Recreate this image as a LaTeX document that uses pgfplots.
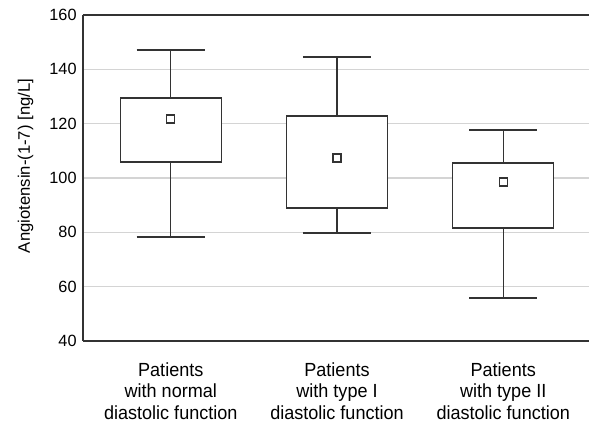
\documentclass[border=0pt]{standalone}
\usepackage{pgfplots}
\pgfplotsset{compat=1.18}
\usepackage{fontspec}
\setmainfont{Liberation Sans}
\newfontfamily\labfont[FakeStretch=0.95]{Liberation Sans}
\definecolor{axisgray}{HTML}{333333}
\definecolor{gridgray}{HTML}{D4D4D4}
\begin{document}
\begin{tikzpicture}
\begin{axis}[
  scale only axis, width=379.5pt, height=244.5pt,
  xmin=0.472, xmax=3.516, ymin=40, ymax=160,
  ytick={40,60,...,160},
  xtick={1,2,3},
  xticklabels={{Patients\\with normal\\diastolic function},{Patients\\with type I\\diastolic function},{Patients\\with type II\\diastolic function}},
  xticklabel style={align=center, font=\labfont\fontsize{14.25}{16.3}\selectfont, yshift=-12.5pt},
  yticklabel style={font=\fontsize{12.2}{14}\selectfont, xshift=-1.3pt},
  /pgf/number format/assume math mode=true,
  separate axis lines,
  axis x line=box, axis y line=left,
  axis line style={-, draw=axisgray, line width=1pt},
  ymajorgrids, major grid style={draw=gridgray, line width=1pt},
  major tick length=0pt,
  ylabel={Angiotensin-(1-7) [ng/L]},
  ylabel style={font=\fontsize{12.5}{14}\selectfont, at={(axis description cs:-0.1136,0.537)}, anchor=center},
  every axis plot/.append style={draw=axisgray, line width=1.05pt},
]
\coordinate (SW) at (rel axis cs:0,0);
\coordinate (NE) at (rel axis cs:1,1);
% group 1: whiskers 78.3 / 147.1, box 105.9 - 129.4
\addplot[mark=none] coordinates {(1,105.9) (1,78.3)};
\addplot[mark=none] coordinates {(0.795,78.3) (1.205,78.3)};
\addplot[mark=none] coordinates {(1,129.4) (1,147.1)};
\addplot[mark=none] coordinates {(0.795,147.1) (1.205,147.1)};
\addplot[mark=none, fill=white] coordinates {(0.696,105.9) (1.304,105.9) (1.304,129.4) (0.696,129.4)} --cycle;
% group 2: whiskers 79.8 / 144.5, box 89.0 - 122.8
\addplot[mark=none] coordinates {(2,89.0) (2,79.8)};
\addplot[mark=none] coordinates {(1.795,79.8) (2.205,79.8)};
\addplot[mark=none] coordinates {(2,122.8) (2,144.5)};
\addplot[mark=none] coordinates {(1.795,144.5) (2.205,144.5)};
\addplot[mark=none, fill=white] coordinates {(1.696,89.0) (2.304,89.0) (2.304,122.8) (1.696,122.8)} --cycle;
% group 3: whiskers 55.8 / 117.7, box 81.6 - 105.5
\addplot[mark=none] coordinates {(3,81.6) (3,55.8)};
\addplot[mark=none] coordinates {(2.795,55.8) (3.205,55.8)};
\addplot[mark=none] coordinates {(3,105.5) (3,117.7)};
\addplot[mark=none] coordinates {(2.795,117.7) (3.205,117.7)};
\addplot[mark=none, fill=white] coordinates {(2.696,81.6) (3.304,81.6) (3.304,105.5) (2.696,105.5)} --cycle;
% means
\addplot[only marks, mark=square*, mark size=3pt, mark options={draw=axisgray, fill=white, line width=1pt}] coordinates {(1,121.7) (2,107.4) (3,98.5)};
\end{axis}
\pgfresetboundingbox
\path ([xshift=-62.25pt,yshift=-62.25pt]SW) rectangle ([xshift=0.75pt,yshift=11.25pt]NE);
\end{tikzpicture}
\end{document}
